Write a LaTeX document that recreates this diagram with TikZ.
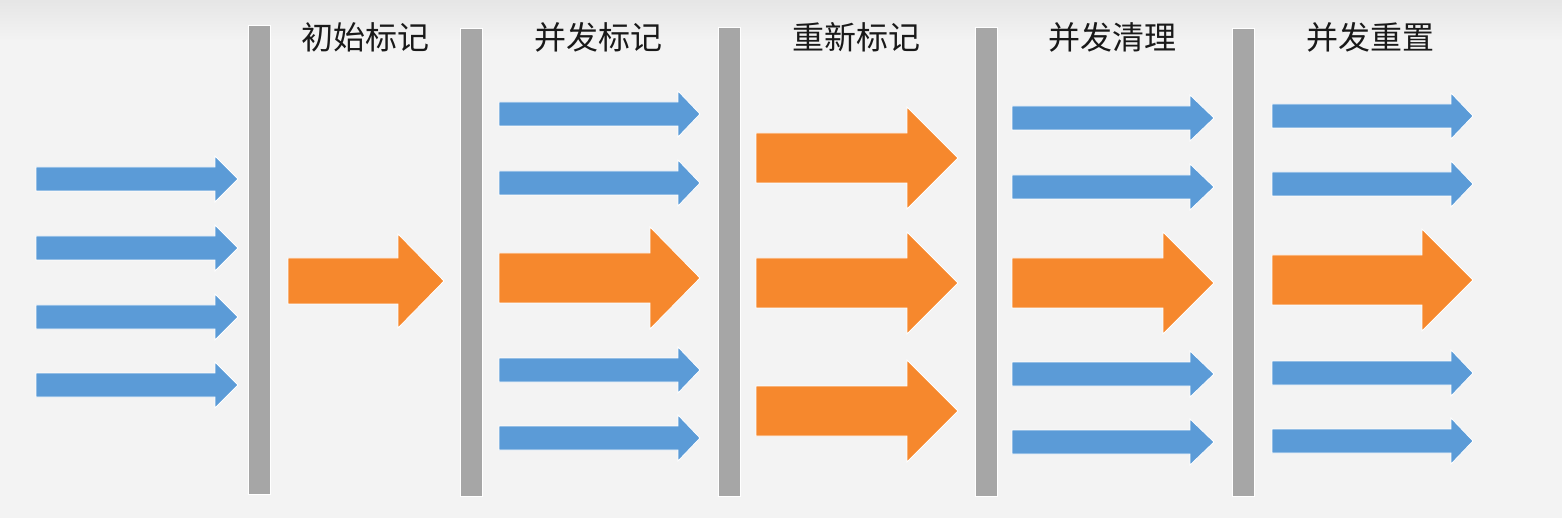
\documentclass[tikz,border=0pt]{standalone}
\usepackage{fontspec}
\newfontfamily\cjk{Noto Sans CJK SC}
\definecolor{flowblue}{HTML}{5B9BD7}
\definecolor{floworange}{HTML}{F6882D}
\definecolor{pausebar}{HTML}{A6A6A6}
\definecolor{slide}{HTML}{F3F3F3}
\tikzset{phase/.style={font=\cjk\fontsize{32}{36}\selectfont, text=black!90, inner sep=0pt}}

% colour, x start, x head, x tip, y, half shaft, half head
\newcommand{\flowarrow}[7]{%
  \fill[#1, draw=white, line width=0.8pt] (#2,#5-#6) -- (#3,#5-#6) -- (#3,#5-#7) -- (#4,#5)
    -- (#3,#5+#7) -- (#3,#5+#6) -- (#2,#5+#6) -- cycle;}

\begin{document}
\begin{tikzpicture}[x=1pt, y=-1pt]
\useasboundingbox (0,0) rectangle (1562,518);
\fill[slide] (0,0) rectangle (1562,518);
\shade[top color=black!10, bottom color=slide] (0,0) rectangle (1562,40);

% pauses
\foreach \x/\ya/\yb in {248/25/494, 460/28/496, 718/27/496, 975/27/496, 1232/28/496}
  \fill[pausebar, draw=white, line width=0.8pt] (\x,\ya) rectangle (\x+22,\yb);

% phase titles
\node[phase] (initmark) at (365,37) {初始标记};
\node[phase] (concmark) at (598,37) {并发标记};
\node[phase] (remark) at (856,37) {重新标记};
\node[phase] (concsweep) at (1112,37) {并发清理};
\node[phase] (concreset) at (1370,37) {并发重置};

% user threads
\foreach \y in {179,248,317,385}
  {\flowarrow{flowblue}{36}{215}{238}{\y}{12}{23}}
\flowarrow{floworange}{288}{398}{444}{281}{23}{47}

\foreach \y in {114,183,370,438}
  {\flowarrow{flowblue}{499}{678}{700}{\y}{12}{23}}
\flowarrow{floworange}{499}{650}{700}{278}{25}{51}

\foreach \y in {158,283,411}
  {\flowarrow{floworange}{756}{907}{958}{\y}{25}{51}}

\foreach \y in {118,187,374,442}
  {\flowarrow{flowblue}{1012}{1190}{1214}{\y}{12}{23}}
\flowarrow{floworange}{1012}{1163}{1214}{283}{25}{51}

\foreach \y in {116,184,373,441}
  {\flowarrow{flowblue}{1272}{1451}{1473}{\y}{12}{23}}
\flowarrow{floworange}{1272}{1422}{1473}{280}{25}{51}
\end{tikzpicture}
\end{document}
